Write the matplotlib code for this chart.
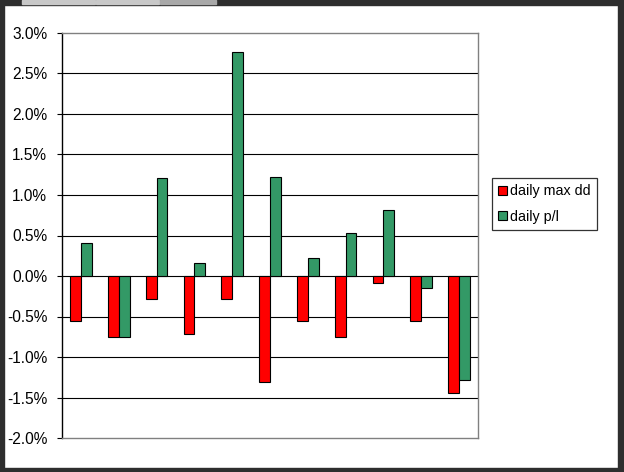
import matplotlib.pyplot as plt
from matplotlib.patches import Rectangle
import numpy as np

plt.rcParams['font.family'] = ['Liberation Sans', 'DejaVu Sans']

# values in percent
max_dd = [-0.55, -0.75, -0.29, -0.71, -0.29, -1.31, -0.55, -0.75, -0.09, -0.56, -1.45]
daily_pl = [0.41, -0.75, 1.21, 0.16, 2.77, 1.22, 0.22, 0.53, 0.81, -0.15, -1.28]
yticks = [-2.0, -1.5, -1.0, -0.5, 0.0, 0.5, 1.0, 1.5, 2.0, 2.5, 3.0]
labels = ["daily max dd", "daily p/l"]

W, H = 624, 472
fig = plt.figure(figsize=(W / 100, H / 100), dpi=100)

# dark window frame with sheet tabs along the top
dark = '#2e2e2e'
fig.patches.append(Rectangle((0, 0), 4 / W, 1, transform=fig.transFigure, color=dark, zorder=-1))
fig.patches.append(Rectangle((618 / W, 0), 6 / W, 1, transform=fig.transFigure, color=dark, zorder=-1))
fig.patches.append(Rectangle((0, 0), 1, 4 / H, transform=fig.transFigure, color=dark, zorder=-1))
fig.patches.append(Rectangle((0, 1 - 5 / H), 1, 5 / H, transform=fig.transFigure, color=dark, zorder=-1))
for x0, x1, c in [(22, 95, '#c8c8c8'), (96, 159, '#c8c8c8'), (160, 216, '#a8a8a8')]:
    fig.patches.append(Rectangle((x0 / W, 1 - 3.5 / H), (x1 - x0) / W, 3.5 / H,
                                 transform=fig.transFigure, color=c, zorder=0))

ax = fig.add_axes([62 / W, 34 / H, 416 / W, 405 / H])

x = np.arange(len(max_dd))
w = 1 / 3.5
ax.bar(x - w / 2, max_dd, w, color='#ff0000', edgecolor='black', linewidth=0.8, label=labels[0], zorder=3)
ax.bar(x + w / 2, daily_pl, w, color='#339966', edgecolor='black', linewidth=0.8, label=labels[1], zorder=3)

ax.set_xlim(-0.5, len(max_dd) - 0.5)
ax.set_ylim(-2.0, 3.0)
ax.set_yticks(yticks)
ax.set_yticklabels([f"{v:.1f}%" for v in yticks], fontsize=11.2)
ax.set_xticks([])
for v in yticks[1:-1]:
    ax.axhline(v, color='black', linewidth=0.8, zorder=1)

for s in ['top', 'right', 'bottom']:
    ax.spines[s].set_color('#808080')
    ax.spines[s].set_linewidth(1.0)
ax.spines['left'].set_color('black')
ax.spines['left'].set_linewidth(1.0)
ax.tick_params(axis='y', length=3.6, width=0.8, pad=7, colors='black')

leg = ax.legend(loc='upper left', bbox_to_anchor=(492 / W, 1 - 178 / H), bbox_transform=fig.transFigure,
                fontsize=10.3, frameon=True, fancybox=False, edgecolor='black', borderaxespad=0,
                handlelength=0.6, handleheight=0.6, handletextpad=0.2, labelspacing=0.8,
                borderpad=0.45)
leg.get_frame().set_linewidth(0.9)

fig.savefig('out.png', dpi=100)
